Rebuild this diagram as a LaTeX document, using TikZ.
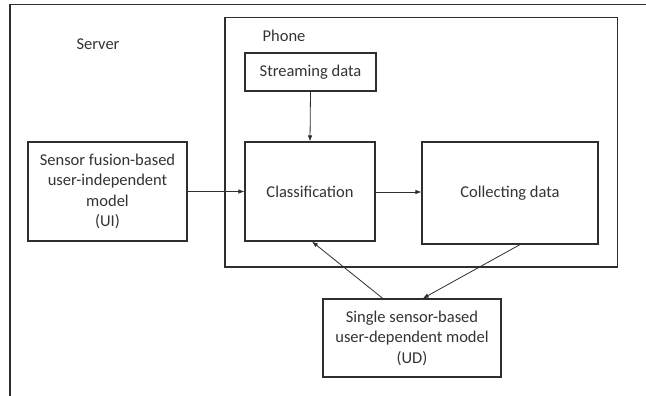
\documentclass[tikz,border=0pt]{standalone}
\usepackage{fontspec}
\setmainfont{Carlito}
\usetikzlibrary{arrows.meta,calc}
\definecolor{txt}{HTML}{333333}
\definecolor{ln}{HTML}{2E2E2E}
\begin{document}
\begin{tikzpicture}[x=1pt,y=-1pt,
  box/.style={draw=ln,line width=1.1pt,inner sep=0pt,align=center,text=txt,
    font=\fontsize{16.5}{20.5}\selectfont},
  lbl/.style={text=txt,inner sep=0pt,font=\fontsize{16.5}{20.5}\selectfont},
  arr/.style={draw=ln,line width=0.8pt,-{Latex[length=6pt,width=4.5pt]}}]
\useasboundingbox (0,0) rectangle (646,396);
% server frame (cropped)
\coordinate (sbl) at (10,397);
\coordinate (stl) at (10,4.5);
\coordinate (str) at (647,4.5);
\draw[ln,line width=1.4pt] (sbl) -- (stl) -- (str);
\node[lbl] (server) at (98,44) {Server};
% phone frame
\node[draw=ln,line width=1.4pt,minimum width=392.5pt,minimum height=249.5pt,inner sep=0pt] (phone) at (421.3,142.2) {};
\node[lbl] (phonelbl) at (284,36) {Phone};
% boxes
\node[box,minimum width=131pt,minimum height=38pt] (stream) at (310.5,72) {Streaming data};
\node[box,minimum width=130pt,minimum height=99pt] (class) at (310,191.5) {Classification};
\node[box,minimum width=176pt,minimum height=102pt] (collect) at (510,193) {Collecting data};
\node[box,minimum width=159pt,minimum height=99pt] (ui) at (107.5,191.5) {Sensor fusion-based\\user-independent\\model\\(UI)};
\node[box,minimum width=178pt,minimum height=78pt] (ud) at (412,338) {Single sensor-based\\user-dependent model\\(UD)};
% connectors
\draw[arr] (stream.south) -- (class.north);
\draw[arr] (ui.east) -- (ui.east -| class.west);
\draw[arr] (class.east |- 0,192) -- (collect.west |- 0,192);
\coordinate (cs) at ($(collect.south west)!0.557!(collect.south east)$);
\coordinate (ut1) at ($(ud.north west)!0.56!(ud.north east)$);
\coordinate (ut2) at ($(ud.north west)!0.337!(ud.north east)$);
\coordinate (cb) at ($(class.south west)!0.515!(class.south east)$);
\draw[arr] (cs) -- (ut1);
\draw[arr] (ut2) -- (cb);
\end{tikzpicture}
\end{document}
